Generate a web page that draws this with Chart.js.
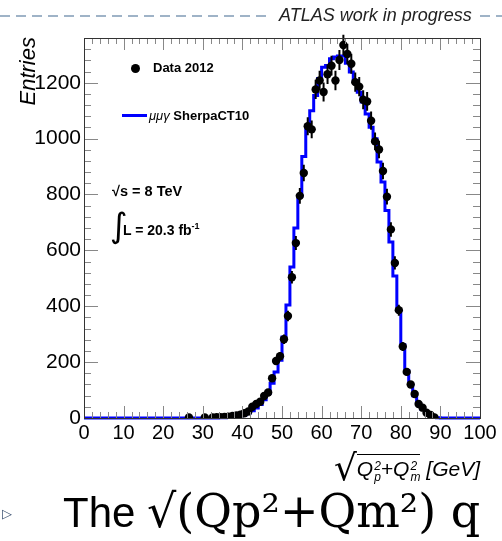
<!DOCTYPE html>
<html>
<head>
<meta charset="utf-8">
<script src="https://cdn.jsdelivr.net/npm/chart.js@4/dist/chart.umd.min.js"></script>
<style>
html, body { margin: 0; padding: 0; background: #fff; overflow: hidden; }
#wrap { position: relative; width: 502px; height: 541px; overflow: hidden; font-family: 'Liberation Sans', Arial, sans-serif; }
#chart { position: absolute; left: 0; top: 0; }
.abs { position: absolute; white-space: nowrap; }
.dash { position: absolute; top: 15px; height: 2px; background: repeating-linear-gradient(to right, #9fb3c7 0 10px, transparent 10px 16px); }
.ss { display: inline-block; vertical-align: -5px; font-size: 12px; line-height: 11px; margin-left: 1px; }
.ss span { display: block; }
</style>
</head>
<body>
<div id="wrap">
  <canvas id="chart" width="502" height="541"></canvas>

  <div class="dash" style="left:0;width:272px"></div>
  <div class="dash" style="left:480px;width:22px"></div>
  <div class="abs" style="left:279px;top:5px;font-size:18px;font-style:italic;color:#222">ATLAS work in progress</div>

  <div class="abs" style="left:16px;top:107px;width:70px;height:24px;line-height:24px;font-size:22px;font-style:italic;text-align:right;transform-origin:left top;transform:rotate(-90deg)">Entries</div>

  <div class="abs" style="left:131px;top:64px;width:9px;height:9px;border-radius:50%;background:#000"></div>
  <div class="abs" style="left:153px;top:60px;font-size:13px;font-weight:bold">Data 2012</div>
  <div class="abs" style="left:122px;top:114px;width:25px;height:3px;background:#0000ff"></div>
  <div class="abs" style="left:149px;top:108px;font-size:13px;font-weight:bold"><i style="font-weight:normal">μμγ</i> SherpaCT10</div>
  <div class="abs" style="left:112px;top:183px;font-size:14.5px;font-weight:bold">√s = 8 TeV</div>
  <div class="abs" style="left:110px;top:203px;font-size:34px;line-height:44px;font-family:'DejaVu Sans'">∫</div>
  <div class="abs" style="left:123px;top:221px;font-size:14px;font-weight:bold">L = 20.3 fb<sup style="font-size:9px">-1</sup></div>

  <div class="abs" style="right:22px;top:450px;font-size:21px;font-style:italic;line-height:36px"><span style="font-size:36px;font-style:normal;font-family:'DejaVu Sans';vertical-align:-4px">√</span><span style="border-top:1px solid #000;padding-top:2px">Q<span class="ss"><span>2</span><span>p</span></span>+Q<span class="ss"><span>2</span><span>m</span></span></span> [GeV]</div>

  <div class="abs" style="left:2px;top:506px;font-size:13px;color:#3a5070">▷</div>
  <div class="abs" style="left:63px;top:486px;line-height:50px;font-size:42px">The <span style="font-family:'DejaVu Serif',serif;font-size:46px">√(Qp²+Qm²) q</span></div>
</div>
<script>
// data 2012, bin centres (1 GeV bins), empty bins omitted
const dataX = [26.5, 30.5, 32.5, 33.5, 34.5, 35.5, 36.5, 37.5, 38.5, 39.5,
  40.5, 41.5, 42.5, 43.5, 44.5, 45.5, 46.5, 47.5, 48.5, 49.5,
  50.5, 51.5, 52.5, 53.5, 54.5, 55.5, 56.5, 57.5, 58.5, 59.5,
  60.5, 61.5, 62.5, 63.5, 64.5, 65.5, 66.5, 67.5, 68.5, 69.5,
  70.5, 71.5, 72.5, 73.5, 74.5, 75.5, 76.5, 77.5, 78.5, 79.5,
  80.5, 81.5, 82.5, 83.5, 84.5, 85.5, 86.5, 87.5, 88.5];
const dataY = [2, 2, 2, 3, 3, 4, 5, 7, 9, 12,
  17, 23, 40, 50, 58, 79, 91, 142, 204, 221,
  282, 365, 504, 626, 795, 877, 1044, 1033, 1176, 1208,
  1167, 1230, 1261, 1208, 1281, 1335, 1303, 1268, 1202, 1186,
  1139, 1133, 1064, 990, 961, 884, 792, 675, 555, 386,
  256, 165, 120, 86, 50, 37, 19, 11, 2];

// sherpa MC histogram, bins 34..89 (all other bins are empty)
const mcFirstBin = 34;
const mcCounts = [1, 1, 2, 3, 5, 8,
  12, 18, 26, 36, 48, 65, 88, 124, 165, 207,
  290, 404, 540, 680, 794, 936, 1035, 1100, 1154, 1215,
  1255, 1262, 1286, 1292, 1296, 1296, 1270, 1238, 1207, 1166,
  1131, 1088, 1041, 999, 916, 845, 743, 630, 508, 385,
  262, 170, 120, 80, 52, 32, 18, 9, 4, 1];

const xTicks = [0, 10, 20, 30, 40, 50, 60, 70, 80, 90, 100];
const yTicks = [0, 200, 400, 600, 800, 1000, 1200];

const mcPoints = [];
for (let e = 0; e <= 100; e++) {
  const i = Math.min(e, 99) - mcFirstBin;
  mcPoints.push({ x: e, y: (i >= 0 && i < mcCounts.length) ? mcCounts[i] : 0 });
}
const dataPoints = dataX.map((x, i) => ({ x: x, y: dataY[i] }));

// frame with ROOT style inward ticks
const frame = {
  id: 'frame',
  afterDraw(chart) {
    const { ctx, chartArea: a, scales: { x, y } } = chart;
    ctx.save();
    ctx.strokeStyle = '#888';
    ctx.lineWidth = 1;
    ctx.beginPath();
    for (let v = 0; v <= 100; v += 2) {
      const px = Math.round(x.getPixelForValue(v)) + 0.5;
      const len = v % 10 === 0 ? 12 : 6;
      ctx.moveTo(px, a.bottom); ctx.lineTo(px, a.bottom - len);
      ctx.moveTo(px, a.top); ctx.lineTo(px, a.top + len);
    }
    for (let v = 0; v <= y.max; v += 40) {
      const py = Math.round(y.getPixelForValue(v)) + 0.5;
      const len = v % 200 === 0 ? 14 : 7;
      ctx.moveTo(a.left, py); ctx.lineTo(a.left + len, py);
      ctx.moveTo(a.right, py); ctx.lineTo(a.right - len, py);
    }
    ctx.stroke();
    ctx.strokeStyle = '#333';
    ctx.strokeRect(Math.round(a.left) + 0.5, Math.round(a.top) + 0.5, Math.round(a.right - a.left), Math.round(a.bottom - a.top));
    ctx.restore();
  }
};

// poisson error bars on the data
const errorBars = {
  id: 'errorBars',
  beforeDatasetDraw(chart, args) {
    if (args.index !== 1) return;
    const { ctx, scales: { x, y } } = chart;
    ctx.save();
    ctx.strokeStyle = '#000';
    ctx.lineWidth = 2;
    ctx.beginPath();
    dataPoints.forEach(p => {
      const err = Math.sqrt(p.y);
      const px = x.getPixelForValue(p.x);
      ctx.moveTo(px, y.getPixelForValue(p.y + err));
      ctx.lineTo(px, y.getPixelForValue(Math.max(0, p.y - err)));
    });
    ctx.stroke();
    ctx.restore();
  }
};

new Chart(document.getElementById('chart').getContext('2d'), {
  type: 'scatter',
  data: {
    datasets: [{
      type: 'line',
      label: 'SherpaCT10',
      data: mcPoints,
      stepped: 'before',
      borderColor: '#0000ff',
      borderWidth: 3,
      pointRadius: 0,
      fill: false,
      clip: 4,
      order: 2
    }, {
      label: 'Data 2012',
      data: dataPoints,
      backgroundColor: '#000',
      borderWidth: 0,
      pointRadius: 4.2,
      order: 1
    }]
  },
  options: {
    responsive: false,
    animation: false,
    devicePixelRatio: 1,
    layout: { padding: { top: 38, right: 22, left: 0, bottom: 0 } },
    plugins: { legend: { display: false }, tooltip: { enabled: false } },
    scales: {
      x: {
        type: 'linear', min: 0, max: 100,
        grid: { display: false, drawTicks: false },
        border: { display: false },
        afterBuildTicks: s => { s.ticks = xTicks.map(v => ({ value: v })); },
        afterFit: s => { s.height = 123; },
        ticks: { font: { family: 'Liberation Sans', size: 20 }, color: '#000', padding: 3, maxRotation: 0, autoSkip: false, callback: v => String(v) }
      },
      y: {
        min: 0, max: 1360,
        grid: { display: false, drawTicks: false },
        border: { display: false },
        afterBuildTicks: s => { s.ticks = yTicks.map(v => ({ value: v })); },
        afterFit: s => { s.width = 84; },
        ticks: { font: { family: 'Liberation Sans', size: 21 }, color: '#000', padding: 3, callback: v => String(v) }
      }
    }
  },
  plugins: [frame, errorBars]
});
</script>
</body>
</html>
